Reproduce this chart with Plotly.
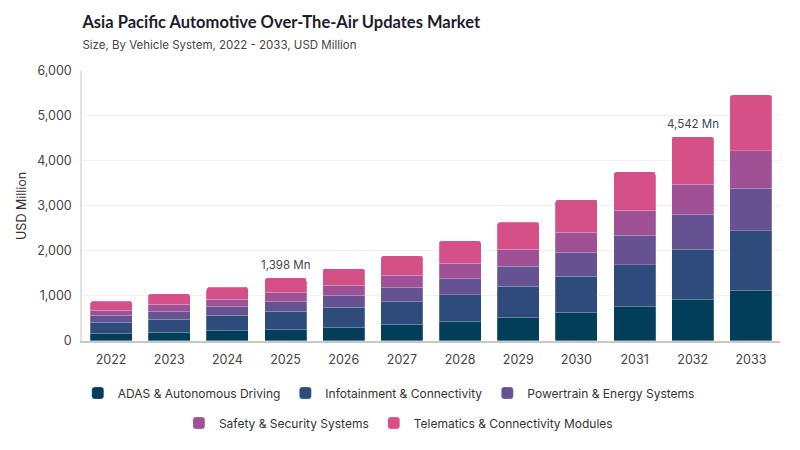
import plotly.graph_objects as go

years = ["2022", "2023", "2024", "2025", "2026", "2027",
         "2028", "2029", "2030", "2031", "2032", "2033"]

adas = [170, 185, 230, 252, 296, 363, 430, 526, 637, 770, 918, 1119]
infotainment = [237, 297, 333, 400, 445, 511, 592, 681, 793, 926, 1112, 1333]
powertrain = [156, 170, 200, 222, 274, 311, 371, 452, 540, 652, 785, 941]
safety = [118, 163, 163, 200, 222, 267, 333, 378, 445, 556, 666, 829]
telematics = [200, 229, 267, 324, 370, 437, 496, 600, 726, 852, 1061, 1245]

series_names = ["ADAS & Autonomous Driving", "Infotainment & Connectivity",
                "Powertrain & Energy Systems", "Safety & Security Systems",
                "Telematics & Connectivity Modules"]
colors = ["#023e5a", "#2f4b7c", "#665191", "#a05195", "#d45087"]
# first three in the top legend row, last two in the second row
legend_rows = ["legend", "legend", "legend", "legend2", "legend2"]

labelled_years = ["2025", "2032"]

totals = [sum(v) for v in zip(adas, infotainment, powertrain, safety, telematics)]

fig = go.Figure()
for name, vals, col, lg in zip(series_names,
                               [adas, infotainment, powertrain, safety, telematics],
                               colors, legend_rows):
    fig.add_trace(go.Bar(
        x=years, y=vals, name=name, legend=lg,
        marker=dict(color=col, line=dict(color="rgba(255,255,255,0.35)", width=0.6)),
    ))

# total labels on selected bars (category index, so the axis doesn't read "2025" as a number)
for yr in labelled_years:
    i = years.index(yr)
    fig.add_annotation(x=i, y=totals[i], text=f"{totals[i]:,} Mn",
                       showarrow=False, yshift=13,
                       font=dict(size=11.5, color="#3d4556"))

legend_style = dict(orientation="h", xref="container", yref="container",
                    xanchor="center", yanchor="middle",
                    font=dict(size=12, color="#333"),
                    traceorder="normal", itemwidth=30)

# page body adds ~8px offset, margins below account for it
fig.update_layout(
    barmode="stack",
    bargap=0.28,
    barcornerradius=3,
    width=800, height=450,
    margin=dict(l=74, r=28, t=63, b=101),
    plot_bgcolor="white",
    paper_bgcolor="white",
    font=dict(family="Inter, Lato, sans-serif", color="#3a3a3a"),
    title=dict(
        text="<b>Asia Pacific Automotive Over-The-Air Updates Market</b>"
             "<br><span style='font-size:11.5px;color:#444;font-family:Inter'>Size, By Vehicle System, 2022 - 2033, USD Million</span>",
        x=0.093, xanchor="left", y=0.956, yanchor="top",
        font=dict(size=16.5, color="#1c1c2e", family="Lato"),
    ),
    legend=dict(legend_style, x=0.476, y=1 - 385 / 450),
    legend2=dict(legend_style, x=0.488, y=1 - 415 / 450),
    showlegend=True,
)

fig.update_yaxes(
    range=[0, 6000], dtick=1000, tickformat=",",
    title=dict(text="USD Million", font=dict(size=12.5, color="#333"), standoff=8),
    automargin=False,
    showgrid=True, gridcolor="#f0f0f0", gridwidth=1,
    showline=True, linecolor="#e2e2e2", linewidth=1.5,
    ticks="outside", ticklen=6, tickcolor="white",
    tickfont=dict(size=12.5, color="#444"),
    zeroline=False,
)
fig.update_xaxes(
    type="category", range=[-0.5, len(years) - 0.5],
    showline=True, linecolor="#c8c8c8", linewidth=1.5,
    tickfont=dict(size=12.5, color="#444"),
    ticks="outside", ticklen=6, tickcolor="white",
)

fig.write_html("out.html")
